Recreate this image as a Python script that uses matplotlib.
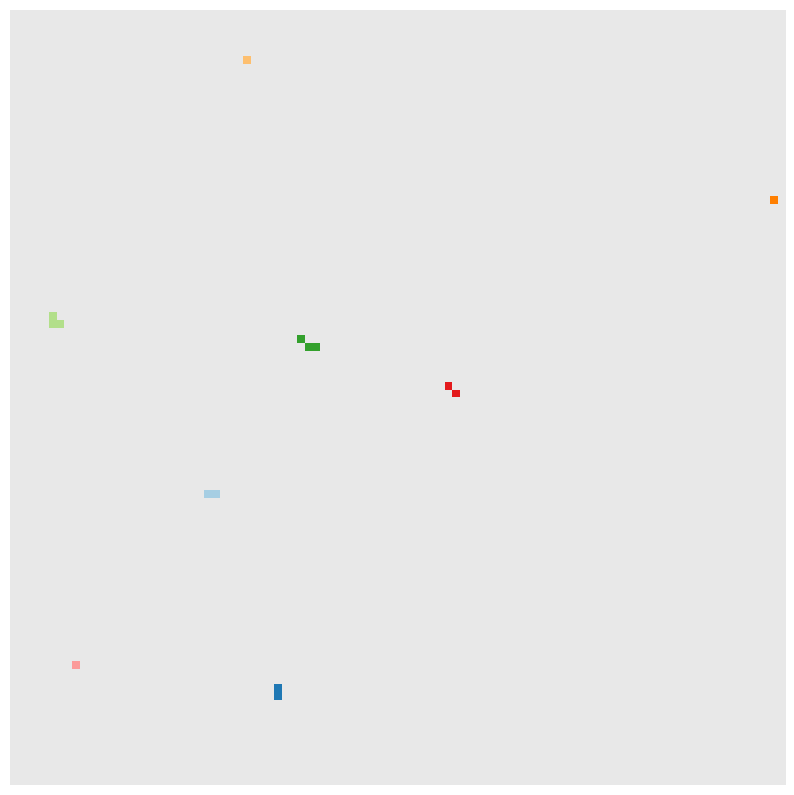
import numpy as np
import matplotlib
matplotlib.use("Agg")
import matplotlib.pyplot as plt
from matplotlib.colors import ListedColormap

grid_size = 100
groups = ["light blue", "blue", "light green", "green", "pink", "red", "light orange", "orange"]
colors = ["#a6cee3", "#1f78b4", "#b2df8a", "#33a02c", "#fb9a99", "#e31a1c", "#fdbf6f", "#ff7f00"]

# cells: (row, col, group index)
cell_rows = [62, 62, 87, 88, 39, 40, 40, 42, 43, 43, 84, 48, 49, 6, 24]
cell_cols = [25, 26, 34, 34, 5, 5, 6, 37, 38, 39, 8, 56, 57, 30, 98]
cell_group = [0, 0, 1, 1, 2, 2, 2, 3, 3, 3, 4, 5, 5, 6, 7]

grid = np.full((grid_size, grid_size), np.nan)
for r, c, g in zip(cell_rows, cell_cols, cell_group):
    grid[r, c] = g

fig = plt.figure(figsize=(7.94, 7.95), dpi=100)
ax = fig.add_axes([10 / 794, 10 / 795, 776 / 794, 775 / 795])
ax.set_facecolor("#e8e8e8")
ax.imshow(grid, cmap=ListedColormap(colors), vmin=-0.5, vmax=len(colors) - 0.5,
          interpolation="nearest", aspect="auto",
          extent=(0, grid_size, grid_size, 0))
ax.set_xlim(0, grid_size)
ax.set_ylim(grid_size, 0)
ax.set_xticks([])
ax.set_yticks([])
for s in ax.spines.values():
    s.set_visible(False)

fig.savefig("out.png", dpi=100, facecolor="white")
